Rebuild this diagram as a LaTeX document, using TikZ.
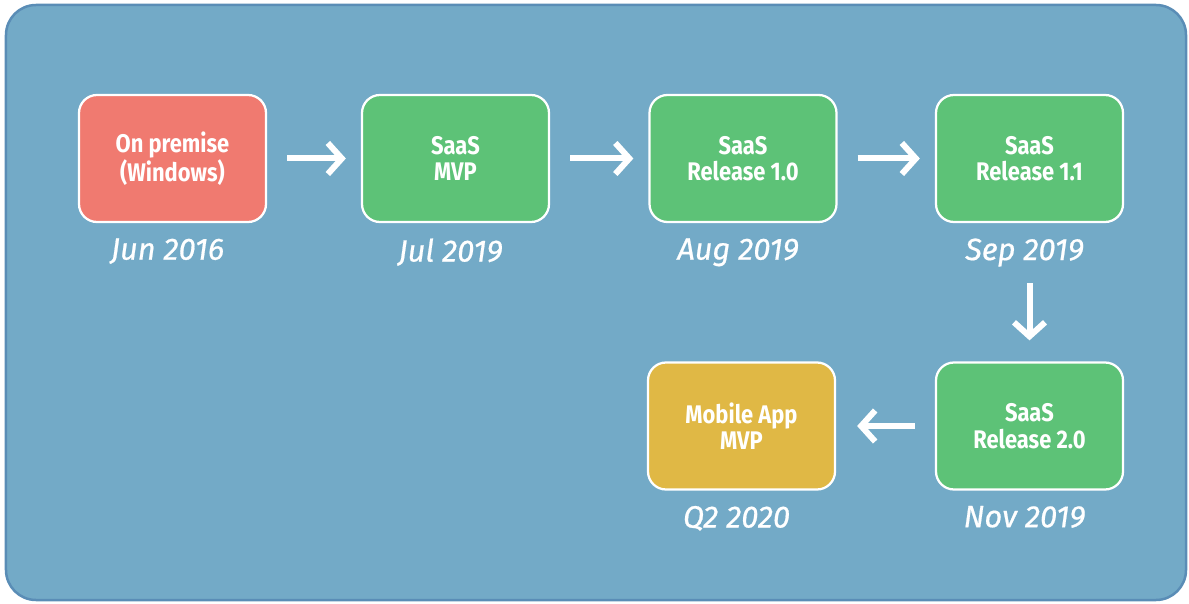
\documentclass[tikz,border=0pt]{standalone}
\usepackage{fontspec}
\setmainfont{Fira Sans}
\newfontfamily\stagefont{Fira Sans}[FakeStretch=0.86]
\newfontfamily\datefont{Fira Sans}[FakeBold=0.6]
\usetikzlibrary{arrows.meta,positioning}
\definecolor{Panel}{HTML}{73AAC7}
\definecolor{PanelEdge}{HTML}{5A8DB6}
\definecolor{OnPrem}{HTML}{F07A70}
\definecolor{SaasGreen}{HTML}{5DC277}
\definecolor{MobileGold}{HTML}{E0B845}

\begin{document}
\begin{tikzpicture}[>={Straight Barb[length=0.28cm,width=0.62cm]},
    stage/.style={draw=white, line width=0.045cm, rounded corners=0.36cm,
        minimum width=3.74cm, minimum height=2.54cm, text=white, align=center,
        font=\stagefont\bfseries\fontsize{14.5}{15}\selectfont},
    datelbl/.style={text=white, inner sep=0pt, font=\datefont\itshape\fontsize{17.5}{19}\selectfont},
    flow/.style={->, white, line width=0.12cm}]

    % Canvas and panel
    \useasboundingbox (0,0) rectangle (23.78,12.06);
    \draw[PanelEdge, fill=Panel, line width=0.05cm, rounded corners=0.6cm] (0.12,0.06) rectangle (23.72,11.96);

    % Top row
    \node[stage, fill=OnPrem] (onprem) at (3.45,8.89) {On premise\\(Windows)};
    \node[stage, fill=SaasGreen] (mvp) at (9.11,8.89) {SaaS\\MVP};
    \node[stage, fill=SaasGreen] (rel10) at (14.86,8.89) {SaaS\\Release 1.0};
    \node[stage, fill=SaasGreen] (rel11) at (20.59,8.89) {SaaS\\Release 1.1};

    % Bottom row
    \node[stage, fill=SaasGreen] (rel20) at (20.59,3.54) {SaaS\\Release 2.0};
    \node[stage, fill=MobileGold] (mobile) at (14.83,3.54) {Mobile App\\MVP};

    % Dates
    \node[datelbl, below=0.3cm of onprem, xshift=-0.1cm] (d1) {Jun 2016};
    \node[datelbl, below=0.3cm of mvp, xshift=-0.1cm] (d2) {Jul 2019};
    \node[datelbl, below=0.3cm of rel10, xshift=-0.1cm] (d3) {Aug 2019};
    \node[datelbl, below=0.3cm of rel11, xshift=-0.1cm] (d4) {Sep 2019};
    \node[datelbl, below=0.3cm of rel20, xshift=-0.1cm] (d5) {Nov 2019};
    \node[datelbl, below=0.3cm of mobile, xshift=-0.1cm] (d6) {Q2 2020};

    % Arrows
    \draw[flow, shorten <=0.4cm, shorten >=0.3cm] (onprem) -- (mvp);
    \draw[flow, shorten <=0.4cm, shorten >=0.3cm] (mvp) -- (rel10);
    \draw[flow, shorten <=0.4cm, shorten >=0.3cm] (rel10) -- (rel11);
    \draw[flow, shorten <=1.2cm, shorten >=0.42cm] (rel11) -- (rel20);
    \draw[flow, shorten <=0.4cm, shorten >=0.42cm] (rel20) -- (mobile);

\end{tikzpicture}
\end{document}
